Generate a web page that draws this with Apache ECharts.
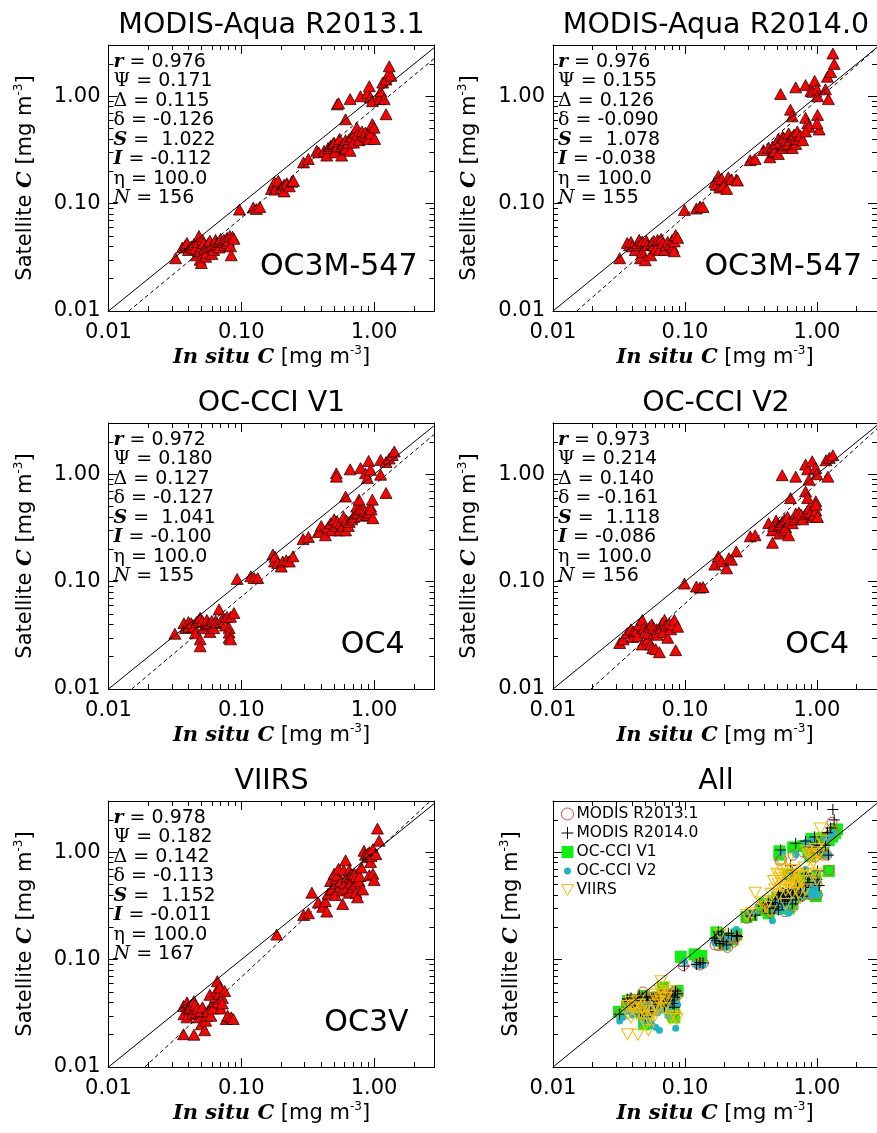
<!DOCTYPE html>
<html><head><meta charset="utf-8">
<script src="https://cdn.jsdelivr.net/npm/echarts@6/dist/echarts.min.js"></script>
<style>html,body{margin:0;padding:0;background:#fff}#c{width:877px;height:1133px}</style>
</head><body><div id="c"></div>
<script>
// ---------------- data ----------------
const panelTitles = ['MODIS-Aqua R2013.1','MODIS-Aqua R2014.0','OC-CCI V1','OC-CCI V2','VIIRS','All'];
const methodLabels = ['OC3M-547','OC3M-547','OC4','OC4','OC3V'];
const legendNames = ['MODIS R2013.1','MODIS R2014.0','OC-CCI V1','OC-CCI V2','VIIRS'];
const statR = [0.976,0.976,0.972,0.973,0.978];
const statPsi = [0.171,0.155,0.180,0.214,0.182];
const statDeltaCap = [0.115,0.126,0.127,0.140,0.142];
const statDeltaSmall = [-0.126,-0.090,-0.127,-0.161,-0.113];
const statS = [1.022,1.078,1.041,1.118,1.152];
const statI = [-0.112,-0.038,-0.100,-0.086,-0.011];
const statEta = [100.0,100.0,100.0,100.0,100.0];
const statN = [156,155,155,156,167];
const majorTicks = [0.01,0.1,1];
const minorTicks = [0.02,0.03,0.04,0.05,0.06,0.07,0.08,0.09,0.2,0.3,0.4,0.5,0.6,0.7,0.8,0.9,2];
const axisMin = 0.01, axisMaxX = 2.85, axisMaxY = 3;

const dataR2013 = [
[0.032,0.031],[0.036,0.039],[0.038,0.041],[0.039,0.043],[0.040,0.037],[0.042,0.040],[0.043,0.039],[0.044,0.042],[0.045,0.038],[0.046,0.033],[0.047,0.044],[0.048,0.050],[0.048,0.036],[0.049,0.030],[0.050,0.028],[0.050,0.040],[0.051,0.046],[0.052,0.043],[0.053,0.038],[0.054,0.032],[0.055,0.035],[0.056,0.042],[0.057,0.039],[0.058,0.045],[0.060,0.040],[0.060,0.034],[0.062,0.037],[0.063,0.041],[0.064,0.046],[0.066,0.042],[0.068,0.039],[0.069,0.044],[0.070,0.047],[0.072,0.044],[0.074,0.046],[0.075,0.041],[0.078,0.048],[0.079,0.043],[0.080,0.045],[0.082,0.050],[0.083,0.040],[0.084,0.033],[0.086,0.049],[0.088,0.047],
[0.097,0.088],[0.123,0.092],[0.130,0.089],[0.138,0.093],
[0.169,0.137],[0.175,0.150],[0.178,0.158],[0.180,0.135],[0.190,0.163],[0.200,0.140],[0.210,0.130],[0.210,0.150],[0.220,0.155],[0.230,0.145],[0.240,0.160],[0.247,0.163],
[0.294,0.242],[0.320,0.260],[0.370,0.310],
[0.383,0.300],[0.420,0.310],[0.440,0.280],[0.450,0.330],[0.470,0.345],[0.490,0.360],[0.500,0.370],[0.510,0.320],[0.510,0.300],[0.530,0.340],[0.540,0.380],[0.550,0.400],[0.570,0.345],[0.570,0.280],[0.590,0.360],[0.600,0.320],[0.610,0.390],[0.620,0.330],[0.640,0.370],[0.650,0.400],[0.660,0.310],[0.680,0.420],[0.700,0.370],[0.720,0.460],[0.740,0.510],[0.750,0.440],[0.770,0.390],[0.810,0.470],[0.840,0.430],[0.860,0.460],[0.880,0.420],[0.910,0.400],[0.930,0.470],[0.950,0.450],[0.970,0.550],[1.000,0.510],[1.010,0.400],[0.610,0.610],
[0.527,0.840],[0.540,0.860],[0.660,0.940],[0.790,1.000],[0.890,1.070],[0.920,1.240],[0.940,0.970],[0.970,0.900],[1.090,1.000],[1.110,0.940],[1.120,1.110],[1.160,1.340],[1.190,0.940],[1.230,1.430],[1.230,0.680],[1.300,1.660],[1.340,1.550],[1.300,1.900]
];
const dataR2014 = [
[0.032,0.031],[0.0365,0.043],[0.038,0.041],[0.039,0.044],[0.040,0.040],[0.042,0.037],[0.0435,0.041],[0.044,0.043],[0.045,0.046],[0.046,0.031],[0.0475,0.0445],[0.0475,0.0355],[0.050,0.0297],[0.051,0.045],[0.052,0.041],[0.055,0.033],[0.056,0.043],[0.058,0.041],[0.058,0.045],[0.060,0.038],[0.062,0.046],[0.064,0.037],[0.066,0.047],[0.068,0.043],[0.070,0.037],[0.072,0.041],[0.074,0.044],[0.078,0.042],[0.080,0.046],[0.081,0.039],[0.083,0.036],[0.083,0.0445],[0.085,0.051],[0.088,0.048],
[0.099,0.087],[0.122,0.090],[0.130,0.094],[0.137,0.093],
[0.168,0.158],[0.172,0.150],[0.179,0.181],[0.184,0.141],[0.190,0.170],[0.195,0.147],[0.207,0.137],[0.213,0.176],[0.225,0.168],[0.245,0.168],[0.250,0.164],
[0.312,0.254],[0.340,0.260],
[0.393,0.315],[0.430,0.330],[0.440,0.270],[0.460,0.340],[0.470,0.300],[0.480,0.310],[0.485,0.360],[0.510,0.400],[0.510,0.290],[0.520,0.370],[0.545,0.330],[0.550,0.420],[0.560,0.410],[0.570,0.350],[0.580,0.390],[0.600,0.360],[0.610,0.450],[0.620,0.390],[0.650,0.420],[0.650,0.330],[0.670,0.440],[0.690,0.360],[0.700,0.400],[0.710,0.470],[0.730,0.400],[0.750,0.430],[0.780,0.390],
[0.630,0.750],[0.650,0.650],[0.820,0.630],[0.850,0.560],[0.870,0.520],[1.010,0.670],[1.040,0.490],[1.000,0.560],[0.820,0.470],
[0.530,1.050],[0.690,1.210],[0.820,1.270],[0.900,1.120],[0.930,1.100],[0.960,1.390],[1.000,1.160],[1.010,1.000],[1.160,1.160],[1.220,0.940],[1.200,1.520],[1.270,1.680],[1.350,2.000],[1.320,2.500]
];
const dataV1 = [
[0.0316,0.0327],[0.037,0.041],[0.038,0.037],[0.040,0.038],[0.040,0.042],[0.042,0.041],[0.044,0.038],[0.045,0.033],[0.046,0.042],[0.048,0.044],[0.049,0.046],[0.049,0.029],[0.049,0.025],[0.051,0.043],[0.052,0.037],[0.055,0.040],[0.055,0.044],[0.057,0.041],[0.058,0.034],[0.060,0.043],[0.062,0.037],[0.064,0.043],[0.066,0.041],[0.068,0.055],[0.070,0.042],[0.072,0.045],[0.074,0.043],[0.076,0.039],[0.078,0.047],[0.081,0.037],[0.081,0.0335],[0.081,0.030],[0.083,0.047],[0.083,0.029],[0.088,0.051],
[0.093,0.106],[0.118,0.112],[0.125,0.108],[0.133,0.108],
[0.173,0.179],[0.178,0.154],[0.180,0.170],[0.188,0.149],[0.200,0.138],[0.205,0.154],[0.218,0.158],[0.230,0.154],[0.245,0.172],
[0.292,0.249],[0.320,0.260],
[0.380,0.290],[0.400,0.330],[0.430,0.270],[0.450,0.320],[0.470,0.350],[0.480,0.300],[0.500,0.380],[0.520,0.330],[0.530,0.360],[0.550,0.300],[0.560,0.350],[0.580,0.330],[0.590,0.400],[0.610,0.300],[0.620,0.370],[0.640,0.330],[0.650,0.360],[0.680,0.380],[0.700,0.400],[0.720,0.430],[0.740,0.500],[0.750,0.440],[0.790,0.470],[0.810,0.410],[0.830,0.470],[0.860,0.450],[0.880,0.420],[0.910,0.440],[0.940,0.500],[0.950,0.470],[0.970,0.580],[0.980,0.390],[0.610,0.620],[0.770,0.580],
[0.520,1.020],[0.520,0.950],[0.660,1.110],[0.790,1.140],[0.860,1.020],[0.910,1.330],[0.890,0.920],[0.940,1.100],[1.120,0.990],[1.120,1.360],[1.230,0.670],[1.230,1.300],[1.300,1.400],[1.370,1.510],[1.420,1.630]
];
const dataV2 = [
[0.032,0.0268],[0.034,0.029],[0.0365,0.0331],[0.039,0.036],[0.040,0.0305],[0.041,0.0343],[0.043,0.035],[0.044,0.031],[0.045,0.040],[0.0475,0.044],[0.0475,0.026],[0.049,0.037],[0.050,0.034],[0.052,0.029],[0.053,0.033],[0.054,0.038],[0.055,0.026],[0.056,0.040],[0.057,0.024],[0.058,0.037],[0.060,0.0235],[0.061,0.036],[0.062,0.032],[0.064,0.022],[0.066,0.037],[0.067,0.041],[0.068,0.034],[0.070,0.044],[0.072,0.039],[0.074,0.030],[0.076,0.041],[0.078,0.036],[0.080,0.040],[0.083,0.044],[0.085,0.023],[0.088,0.038],
[0.099,0.096],[0.122,0.090],[0.130,0.088],[0.137,0.089],
[0.168,0.144],[0.179,0.172],[0.190,0.154],[0.207,0.133],[0.215,0.165],[0.225,0.160],[0.245,0.191],
[0.312,0.264],[0.340,0.270],
[0.430,0.350],[0.460,0.300],[0.460,0.230],[0.470,0.330],[0.490,0.370],[0.510,0.330],[0.520,0.280],[0.530,0.340],[0.545,0.360],[0.560,0.300],[0.570,0.380],[0.580,0.320],[0.600,0.400],[0.610,0.270],[0.620,0.360],[0.650,0.350],[0.670,0.380],[0.690,0.430],[0.710,0.400],[0.730,0.440],[0.760,0.420],[0.780,0.380],[0.820,0.430],[0.840,0.450],[0.870,0.480],[0.900,0.440],[0.920,0.400],[0.950,0.420],[0.980,0.460],[1.010,0.400],
[0.630,0.600],[0.820,0.690],[0.850,0.600],[0.980,0.560],[0.980,0.520],
[0.545,0.980],[0.690,0.950],[0.820,1.230],[0.850,1.110],[0.870,0.890],[0.920,1.320],[0.980,1.140],[1.000,1.000],[1.170,1.350],[1.210,0.950],[1.240,1.420],[1.320,1.500]
];
const dataVIIRS = [
[0.0367,0.037],[0.037,0.031],[0.0367,0.0202],[0.039,0.040],[0.039,0.029],[0.040,0.035],[0.041,0.036],[0.042,0.038],[0.043,0.031],[0.044,0.041],[0.044,0.020],[0.045,0.038],[0.046,0.032],[0.047,0.035],[0.048,0.029],[0.049,0.033],[0.050,0.025],[0.051,0.036],[0.053,0.022],[0.054,0.027],[0.055,0.030],[0.056,0.033],[0.058,0.047],[0.059,0.030],[0.060,0.038],[0.061,0.035],[0.063,0.041],[0.064,0.045],[0.065,0.051],[0.066,0.063],[0.067,0.040],[0.068,0.048],[0.069,0.055],[0.070,0.035],[0.072,0.044],[0.072,0.039],[0.075,0.051],[0.077,0.028],[0.079,0.030],[0.084,0.029],[0.087,0.028],
[0.185,0.171],[0.295,0.260],[0.320,0.270],
[0.340,0.420],[0.380,0.340],[0.410,0.310],[0.430,0.350],[0.440,0.280],[0.450,0.410],[0.470,0.540],[0.480,0.450],[0.500,0.630],[0.510,0.510],[0.510,0.400],[0.520,0.570],[0.530,0.610],[0.540,0.700],[0.550,0.480],[0.560,0.540],[0.580,0.440],[0.580,0.330],[0.590,0.680],[0.600,0.520],[0.610,0.840],[0.620,0.460],[0.630,0.590],[0.650,0.420],[0.650,0.680],[0.660,0.580],[0.670,0.520],[0.680,0.620],[0.690,0.470],[0.710,0.630],[0.720,0.500],[0.730,0.420],[0.730,0.590],[0.750,0.380],[0.770,0.540],[0.780,0.600],[0.800,0.720],[0.820,0.450],[0.840,1.030],[0.860,0.950],[0.890,0.900],[0.900,0.970],[0.920,1.000],[0.920,0.610],[0.940,0.810],[0.950,0.920],[0.980,1.070],[0.980,0.630],[1.000,0.550],[1.030,0.960],[1.060,1.660],[1.090,1.280]
];
const panelData = [dataR2013, dataR2014, dataV1, dataV2, dataVIIRS];

// ---------------- layout & style ----------------
const colLeft = [108.5, 553];
const rowTop = [45, 423, 801];
const boxW = 326, boxH = 266;
const labelRight = [309, 309, 296, 296, 300];
const SANS = 'DejaVu Sans', SERIF = 'DejaVu Serif';

const nameRich = {
  bi: {fontFamily: SERIF, fontWeight: 'bold', fontStyle: 'italic', fontSize: 21, lineHeight: 26, color: '#000'},
  sup: {fontFamily: SANS, fontSize: 12, lineHeight: 12, verticalAlign: 'top', color: '#000'}
};
const nameStyle = {fontFamily: SANS, fontSize: 21, lineHeight: 26, color: '#000', rich: nameRich};

const grids = [], xAxes = [], yAxes = [], series = [], graphics = [];

function logAxis(gi, max, extra) {
  return Object.assign({type: 'log', logBase: 10, min: axisMin, max: max, gridIndex: gi,
    splitLine: {show: false}, axisLabel: {show: false}, axisLine: {show: false, onZero: false},
    axisTick: {show: false}, silent: true}, extra);
}
function tickCfg(vals, len) {
  return {show: true, inside: true, length: len, customValues: vals, lineStyle: {color: '#000', width: 1}};
}
const lineCfg = {show: true, onZero: false, lineStyle: {color: '#000', width: 1}};

for (let i = 0; i < 6; i++) {
  const col = i % 2, row = Math.floor(i / 2);
  const L = colLeft[col], T = rowTop[row];
  grids.push({left: L, top: T, width: boxW, height: boxH});
  xAxes.push(logAxis(i, axisMaxX, {position: 'bottom', axisLine: lineCfg, axisTick: tickCfg(majorTicks, 9),
    axisLabel: {show: true, customValues: majorTicks, formatter: v => Number(v).toFixed(2), fontFamily: SANS, fontSize: 21, color: '#000', margin: 11},
    name: '{bi|In situ C} [mg m{sup|-3}]', nameLocation: 'middle', nameGap: 34, nameTextStyle: nameStyle}));
  xAxes.push(logAxis(i, axisMaxX, {position: 'bottom', axisTick: tickCfg(minorTicks, 5)}));
  xAxes.push(logAxis(i, axisMaxX, {position: 'top', axisLine: lineCfg, axisTick: tickCfg(majorTicks, 9)}));
  xAxes.push(logAxis(i, axisMaxX, {position: 'top', axisTick: tickCfg(minorTicks, 5)}));
  yAxes.push(logAxis(i, axisMaxY, {position: 'left', axisLine: lineCfg, axisTick: tickCfg(majorTicks, 9),
    axisLabel: {show: i < 5, customValues: majorTicks, formatter: v => Number(v).toFixed(2), fontFamily: SANS, fontSize: 21, color: '#000', margin: 8},
    name: 'Satellite {bi|C} [mg m{sup|-3}]', nameLocation: 'middle', nameGap: i < 5 ? 70 : 28, nameTextStyle: nameStyle}));
  yAxes.push(logAxis(i, axisMaxY, {position: 'left', axisTick: tickCfg(minorTicks, 5)}));
  yAxes.push(logAxis(i, axisMaxY, {position: 'right', axisLine: lineCfg, axisTick: tickCfg(majorTicks, 9)}));
  yAxes.push(logAxis(i, axisMaxY, {position: 'right', axisTick: tickCfg(minorTicks, 5)}));

  series.push({type: 'line', xAxisIndex: 4 * i, yAxisIndex: 4 * i, data: [[axisMin, axisMin], [axisMaxX, axisMaxX]],
    showSymbol: false, silent: true, lineStyle: {color: '#000', width: 1}, z: 10, animation: false});

  graphics.push({type: 'text', x: L + boxW / 2, y: T - 5, silent: true,
    style: {text: panelTitles[i], fontFamily: SANS, fontSize: 28.5, fill: '#000', align: 'center', verticalAlign: 'bottom'}});

  if (i < 5) {
    series.push({type: 'scatter', xAxisIndex: 4 * i, yAxisIndex: 4 * i, data: panelData[i],
      symbol: 'triangle', symbolSize: [12, 11], itemStyle: {color: '#ff0000', borderColor: '#000', borderWidth: 0.7, opacity: 1}, z: 3, animation: false});
    const S = statS[i], I = statI[i];
    const lmin = Math.log10(axisMin), lmaxX = Math.log10(axisMaxX), lmaxY = Math.log10(axisMaxY);
    let lx0 = Math.max((lmin - I) / S, lmin);
    let lx1 = lmaxX, ly1 = I + S * lx1;
    if (ly1 > lmaxY) { ly1 = lmaxY; lx1 = (ly1 - I) / S; }
    series.push({type: 'line', xAxisIndex: 4 * i, yAxisIndex: 4 * i,
      data: [[Math.pow(10, lx0), Math.pow(10, I + S * lx0)], [Math.pow(10, lx1), Math.pow(10, ly1)]],
      showSymbol: false, silent: true, lineStyle: {color: '#000', width: 1, type: [4, 3]}, z: 10, animation: false});
    const lines = [
      '{bi|r} = ' + statR[i].toFixed(3),
      '{g|Ψ} = ' + statPsi[i].toFixed(3),
      '{g|Δ} = ' + statDeltaCap[i].toFixed(3),
      '{g|δ} = ' + statDeltaSmall[i].toFixed(3),
      '{bi|S} =  ' + statS[i].toFixed(3),
      '{bi|I} = ' + statI[i].toFixed(3),
      '{g|η} = ' + statEta[i].toFixed(1),
      '{it|N} = ' + statN[i]
    ];
    graphics.push({type: 'text', x: L + 5, y: T + 7, silent: true, z: 20,
      style: {text: lines.join('\n'), fontFamily: SANS, fontSize: 19, lineHeight: 19.5, fill: '#000',
        rich: {
          bi: {fontFamily: SERIF, fontWeight: 'bold', fontStyle: 'italic', fontSize: 19, lineHeight: 19.5},
          g: {fontFamily: SERIF, fontSize: 19, lineHeight: 19.5},
          it: {fontFamily: SERIF, fontStyle: 'italic', fontSize: 19, lineHeight: 19.5}
        }}});
    graphics.push({type: 'text', x: L + labelRight[i], y: T + boxH - 29, silent: true, z: 20,
      style: {text: methodLabels[i], fontFamily: SANS, fontSize: 30, fill: '#000', align: 'right', verticalAlign: 'bottom'}});
  }
}

// "All" panel
const plusPath = 'path://M5,0L5,10M0,5L10,5';
const dotPath = 'path://M0,0M12,12M9.5,6A3.5,3.5,0,1,1,2.5,6A3.5,3.5,0,1,1,9.5,6Z';
const invTriPath = 'path://M0,0L10,0L5,9Z';
const allStyles = [
  {symbol: 'circle', symbolSize: 10, itemStyle: {color: 'rgba(0,0,0,0)', borderColor: '#e8453c', borderWidth: 1, opacity: 1}, z: 4},
  {symbol: plusPath, symbolSize: 11, itemStyle: {color: 'rgba(0,0,0,0)', borderColor: '#000', borderWidth: 1, opacity: 1}, z: 6},
  {symbol: 'rect', symbolSize: 12, itemStyle: {color: '#10f010', opacity: 1}, z: 3},
  {symbol: 'circle', symbolSize: 7, itemStyle: {color: '#1eb4c8', opacity: 1}, z: 5},
  {symbol: invTriPath, symbolSize: [12, 11], itemStyle: {color: 'rgba(0,0,0,0)', borderColor: '#f5bb00', borderWidth: 1, opacity: 1}, z: 7}
];
for (let k = 0; k < 5; k++) {
  series.push(Object.assign({type: 'scatter', name: legendNames[k], xAxisIndex: 20, yAxisIndex: 20, data: panelData[k], animation: false}, allStyles[k]));
}

const option = {
  animation: false,
  backgroundColor: '#fff',
  grid: grids, xAxis: xAxes, yAxis: yAxes, series: series,
  legend: {
    orient: 'vertical', left: 561, top: 806, itemWidth: 12, itemHeight: 12, itemGap: 3, padding: 0,
    selectedMode: false,
    textStyle: {fontFamily: SANS, fontSize: 15.5, color: '#000', padding: [0, 0, 0, -2]},
    data: [
      {name: legendNames[0], icon: 'circle', itemStyle: {color: 'rgba(0,0,0,0)', borderColor: '#e8453c', borderWidth: 1}},
      {name: legendNames[1], icon: plusPath, itemStyle: {color: 'rgba(0,0,0,0)', borderColor: '#000', borderWidth: 1}},
      {name: legendNames[2], icon: 'rect', itemStyle: {color: '#10f010'}},
      {name: legendNames[3], icon: dotPath, itemStyle: {color: '#1eb4c8'}},
      {name: legendNames[4], icon: invTriPath, itemStyle: {color: 'rgba(0,0,0,0)', borderColor: '#f5bb00', borderWidth: 1}}
    ]
  },
  graphic: graphics
};
const chart = echarts.init(document.getElementById('c'), null, {renderer: 'canvas'});
chart.setOption(option);
</script></body></html>
